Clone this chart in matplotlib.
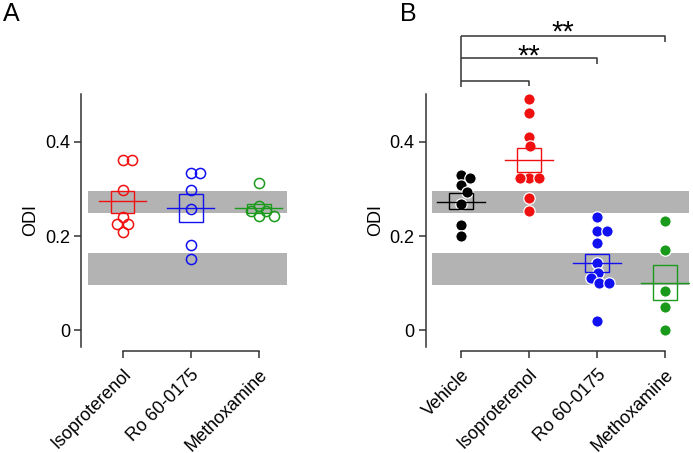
import numpy as np
import matplotlib
matplotlib.use("Agg")
import matplotlib.pyplot as plt
import matplotlib.transforms as mtransforms
from matplotlib.patches import Rectangle

plt.rcParams['font.family'] = ['Liberation Sans', 'DejaVu Sans']

# panel A (open circles)
a_labels = ["Isoproterenol", "Ro 60-0175", "Methoxamine"]
a_iso = [0.361, 0.361, 0.298, 0.241, 0.226, 0.226, 0.209]
a_ro = [0.335, 0.335, 0.298, 0.258, 0.182, 0.151]
a_meth = [0.312, 0.263, 0.253, 0.253, 0.243, 0.243]
a_mean = [0.275, 0.260, 0.259]
a_lo = [0.250, 0.229, 0.250]
a_hi = [0.296, 0.289, 0.268]

# panel B (filled circles)
b_labels = ["Vehicle", "Isoproterenol", "Ro 60-0175", "Methoxamine"]
b_veh = [0.330, 0.323, 0.309, 0.294, 0.268, 0.223, 0.201]
b_iso = [0.491, 0.462, 0.411, 0.391, 0.323, 0.323, 0.323, 0.280, 0.254]
b_ro = [0.241, 0.211, 0.211, 0.186, 0.142, 0.122, 0.110, 0.100, 0.100, 0.020]
b_meth = [0.233, 0.170, 0.084, 0.050, 0.000]
b_mean = [0.273, 0.362, 0.143, 0.100]
b_lo = [0.257, 0.336, 0.123, 0.064]
b_hi = [0.291, 0.387, 0.163, 0.138]

# grey reference bands
bands = [(0.250, 0.295), (0.096, 0.165)]
yticks = [0, 0.2, 0.4]
ytick_labels = ["0", "0.2", "0.4"]

XPX = 68.0   # pixels per category
YPX = 470.0  # pixels per ODI unit


def swarm(vals, gap):
    placed = []
    xs = []
    for v in vals:
        y = v * YPX
        cand = [0.0]
        for px, py in placed:
            dy = y - py
            if abs(dy) < gap:
                dx = np.sqrt(gap ** 2 - dy ** 2)
                cand += [px + dx, px - dx]
        cand.sort(key=abs)
        for c in cand:
            if all((c - px) ** 2 + (y - py) ** 2 >= gap ** 2 - 1e-6 for px, py in placed):
                break
        placed.append((c, y))
        xs.append(c / XPX)
    return np.array(xs)


def setup(ax, labels, xlim, band_x):
    ax.set_xlim(*xlim)
    ax.set_ylim(-0.035, 0.502)
    for lo, hi in bands:
        ax.add_patch(Rectangle((band_x[0], lo), band_x[1] - band_x[0], hi - lo,
                               facecolor='#b3b3b3', edgecolor='none', zorder=0))
    for s in ['top', 'right']:
        ax.spines[s].set_visible(False)
    ax.spines['left'].set_color('#333333')
    ax.spines['bottom'].set_color('#333333')
    ax.spines['left'].set_linewidth(1.1)
    ax.spines['bottom'].set_linewidth(1.1)
    ax.spines['bottom'].set_position(('outward', 3))
    ax.spines['bottom'].set_bounds(0, len(labels) - 1)
    ax.set_yticks(yticks)
    ax.set_yticklabels(ytick_labels, fontsize=13)
    ax.set_xticks(range(len(labels)))
    ax.set_xticklabels(labels, fontsize=13, rotation=45, ha='right', va='top',
                       rotation_mode='anchor')
    shift = mtransforms.ScaledTranslation(0.09, 0.01, fig.dpi_scale_trans)
    for lab in ax.get_xticklabels():
        lab.set_transform(lab.get_transform() + shift)
    ax.tick_params(axis='both', length=5, width=1.1, color='#333333', pad=3)
    ax.tick_params(axis='x', pad=6)
    ax.set_ylabel("ODI", fontsize=13, labelpad=4)


def summary(ax, i, mean, lo, hi, color):
    ax.add_patch(Rectangle((i - 0.175, lo), 0.35, hi - lo, facecolor='none',
                           edgecolor=color, linewidth=1.0, zorder=4))
    ax.plot([i - 0.35, i + 0.35], [mean, mean], color=color, lw=1.0, zorder=4)


fig = plt.figure(figsize=(6.93, 4.53), dpi=100)

axA = fig.add_axes([81 / 693, 1 - 346.7 / 453, (289.3 - 81) / 693, (346.7 - 94) / 453])
setup(axA, a_labels, (-0.61, 2.45), (-0.51, 2.42))
colsA = ['#f01010', '#1010f0', '#1a9a1a']
for i, (vals, c) in enumerate(zip([a_iso, a_ro, a_meth], colsA)):
    xs = swarm(vals, 9.0)
    axA.plot(i + xs, vals, 'o', ms=7.3, mfc='none', mec=c, mew=1.1, zorder=3)
    summary(axA, i, a_mean[i], a_lo[i], a_hi[i], c)

axB = fig.add_axes([425.7 / 693, 1 - 346.7 / 453, (689.5 - 425.7) / 693, (346.7 - 94) / 453])
setup(axB, b_labels, (-0.52, 3.36), (-0.42, 3.35))
colsB = ['#000000', '#f01010', '#1010f0', '#1a9a1a']
for i, (vals, c) in enumerate(zip([b_veh, b_iso, b_ro, b_meth], colsB)):
    xs = swarm(vals, 9.5)
    axB.plot(i + xs, vals, 'o', ms=8.2, mfc=c, mec='white', mew=0.9, zorder=3)
    summary(axB, i, b_mean[i], b_lo[i], b_hi[i], c)

# significance brackets
bk = dict(color='#333333', lw=1.1, clip_on=False, solid_capstyle='butt')
axB.plot([0, 0], [0.6255, 0.517], **bk)
axB.plot([0, 3, 3], [0.6255, 0.6255, 0.613], **bk)
axB.plot([0, 2, 2], [0.578, 0.578, 0.566], **bk)
axB.plot([0, 1, 1], [0.530, 0.530, 0.518], **bk)
axB.text(1.5, 0.615, "**", fontsize=21, ha='center', va='baseline', clip_on=False)
axB.text(1.0, 0.565, "**", fontsize=21, ha='center', va='baseline', clip_on=False)

fig.text(11 / 693, 1 - 14 / 453, "A", fontsize=18, ha='center', va='center')
fig.text(408 / 693, 1 - 14 / 453, "B", fontsize=18, ha='center', va='center')

fig.savefig("out.png", dpi=100)
